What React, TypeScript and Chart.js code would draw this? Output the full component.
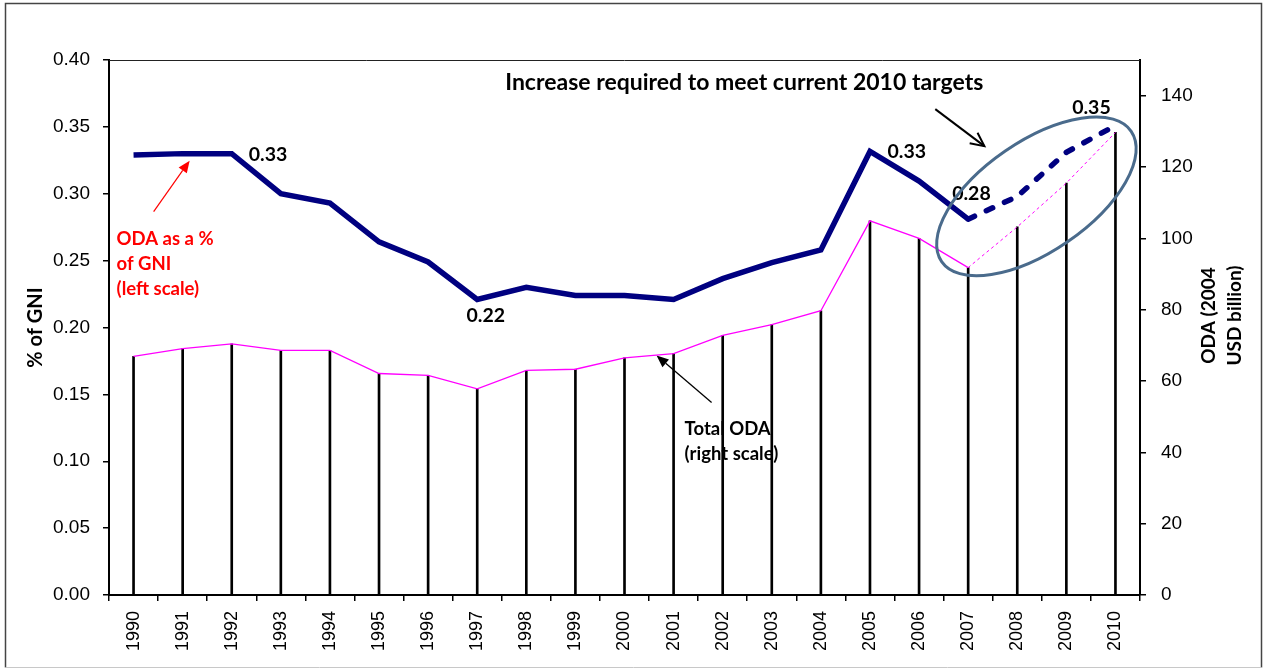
import React, { useEffect, useRef } from "react";
import { Chart, registerables } from "chart.js";

Chart.register(...registerables);

// ---------- data ----------
const years = [
  "1990", "1991", "1992", "1993", "1994", "1995", "1996", "1997", "1998", "1999", "2000",
  "2001", "2002", "2003", "2004", "2005", "2006", "2007", "2008", "2009", "2010",
];

// ODA as % of GNI (left scale) – actual
const gniPctActual: (number | null)[] = [
  0.329, 0.33, 0.33, 0.3, 0.293, 0.264, 0.249, 0.221, 0.23, 0.224, 0.224,
  0.221, 0.2365, 0.2485, 0.258, 0.3316, 0.3095, 0.281, null, null, null,
];
// ODA as % of GNI – required path to 2010 targets
const gniPctTarget: (number | null)[] = [
  null, null, null, null, null, null, null, null, null, null, null,
  null, null, null, null, null, null, 0.281, 0.298, 0.331, 0.351,
];

// Total ODA, 2004 USD billion (right scale) – actual
const odaTotalActual: (number | null)[] = [
  66.9, 69.1, 70.4, 68.6, 68.6, 62.1, 61.6, 57.8, 63.0, 63.3, 66.5,
  67.7, 72.8, 75.8, 79.7, 104.9, 100.0, 91.8, null, null, null,
];
// Total ODA – required path
const odaTotalTarget: (number | null)[] = [
  null, null, null, null, null, null, null, null, null, null, null,
  null, null, null, null, null, null, 91.8, 103.2, 115.5, 129.7,
];

// years whose % of GNI value is written on the chart
const labelledYears = ["1992", "1997", "2005", "2007", "2010"];

const leftAxisTitle = "% of GNI";
const rightAxisTitle = ["ODA (2004", "USD billion)"];
const gniNote = ["ODA as a %", "of GNI", "(left scale)"];
const odaNote = ["Total ODA", "(right scale)"];
const targetNote = "Increase required to meet current 2010 targets";

// ---------- styles ----------
const NAVY = "#000080";
const MAGENTA = "#FF00FF";
const ELLIPSE = "#4A6B8C";
const SANS = "'Liberation Sans', Arial, sans-serif";
const HUM = "Lato, 'Open Sans', sans-serif";

const stems = years.map((_, i) => (odaTotalActual[i] ?? odaTotalTarget[i]) as number);
const gniAll = years.map((_, i) => (gniPctActual[i] ?? gniPctTarget[i]) as number);

function arrow(
  ctx: CanvasRenderingContext2D,
  x1: number, y1: number, x2: number, y2: number,
  color: string, width: number, headLen: number, headW: number, open: boolean
) {
  const a = Math.atan2(y2 - y1, x2 - x1);
  ctx.save();
  ctx.strokeStyle = color;
  ctx.fillStyle = color;
  ctx.lineWidth = width;
  if (!open) {
    const bx = x2 - headLen * Math.cos(a);
    const by = y2 - headLen * Math.sin(a);
    ctx.beginPath();
    ctx.moveTo(x1, y1);
    ctx.lineTo(bx, by);
    ctx.stroke();
    ctx.beginPath();
    ctx.moveTo(x2, y2);
    ctx.lineTo(bx + headW * Math.sin(a), by - headW * Math.cos(a));
    ctx.lineTo(bx - headW * Math.sin(a), by + headW * Math.cos(a));
    ctx.closePath();
    ctx.fill();
  } else {
    ctx.beginPath();
    ctx.moveTo(x1, y1);
    ctx.lineTo(x2, y2);
    ctx.stroke();
    ctx.beginPath();
    ctx.moveTo(x2 - headLen * Math.cos(a - 0.45), y2 - headLen * Math.sin(a - 0.45));
    ctx.lineTo(x2, y2);
    ctx.lineTo(x2 - headLen * Math.cos(a + 0.45), y2 - headLen * Math.sin(a + 0.45));
    ctx.stroke();
  }
  ctx.restore();
}

const annotations = {
  id: "annotations",
  beforeDatasetsDraw(chart: any) {
    const { ctx, chartArea, scales } = chart;
    const x = scales.x, yR = scales.y2;
    // plot frame top
    ctx.save();
    ctx.strokeStyle = "#222";
    ctx.lineWidth = 1;
    ctx.beginPath();
    ctx.moveTo(chartArea.left, chartArea.top + 0.5);
    ctx.lineTo(chartArea.right, chartArea.top + 0.5);
    ctx.stroke();

    // Total ODA note (stems pass over it)
    const i01 = 11;
    const ax = x.getPixelForValue(i01);
    const ay = yR.getPixelForValue(stems[i01]);
    ctx.fillStyle = "#000";
    ctx.font = `bold 18.5px ${HUM}`;
    ctx.textBaseline = "middle";
    ctx.textAlign = "left";
    ctx.fillText(odaNote[0], ax + 11, ay + 75);
    ctx.fillText(odaNote[1], ax + 11, ay + 100);
    ctx.restore();
    arrow(ctx, ax + 38, ay + 49, ax - 17, ay + 2, "#000", 1.3, 12, 5, false);
  },
  afterDraw(chart: any) {
    const { ctx, chartArea, scales, width, height } = chart;
    const x = scales.x, yL = scales.y;
    ctx.save();

    // outer border
    ctx.strokeStyle = "#444";
    ctx.lineWidth = 1.5;
    ctx.beginPath();
    ctx.moveTo(5.5, height - 1.5);
    ctx.lineTo(5.5, 3.5);
    ctx.lineTo(width - 4.5, 3.5);
    ctx.lineTo(width - 4.5, height - 1.5);
    ctx.stroke();
    ctx.strokeStyle = "#c8c8c8";
    ctx.lineWidth = 1;
    ctx.beginPath();
    ctx.moveTo(5.5, height - 1.5);
    ctx.lineTo(width - 4.5, height - 1.5);
    ctx.stroke();

    // axis titles
    ctx.fillStyle = "#000";
    ctx.textAlign = "center";
    ctx.textBaseline = "middle";
    const cy = (chartArea.top + chartArea.bottom) / 2;
    ctx.save();
    ctx.translate(chartArea.left - 73, cy);
    ctx.rotate(-Math.PI / 2);
    ctx.font = `bold 20px ${HUM}`;
    ctx.fillText(leftAxisTitle, 0, 0);
    ctx.restore();
    ctx.save();
    ctx.translate(chartArea.right + 69, cy - 12);
    ctx.rotate(-Math.PI / 2);
    ctx.font = `bold 19px ${HUM}`;
    ctx.fillText(rightAxisTitle[0], 0, 0);
    ctx.fillText(rightAxisTitle[1], 0, 26);
    ctx.restore();

    // value labels
    const offsets: Record<string, [number, number]> = {
      "1992": [17, 1.5],
      "1997": [-10.7, 16.5],
      "2005": [17.5, 0.7],
      "2007": [-16, -25.4],
      "2010": [-43.3, -17.4],
    };
    ctx.font = `bold 19.5px ${HUM}`;
    ctx.textAlign = "left";
    labelledYears.forEach((yr) => {
      const i = years.indexOf(yr);
      const v = gniAll[i];
      const [dx, dy] = offsets[yr];
      ctx.fillText(v.toFixed(2), x.getPixelForValue(i) + dx, yL.getPixelForValue(v) + dy);
    });

    // red note
    const rx = x.getPixelForValue(1);
    const ry = yL.getPixelForValue(gniAll[1]);
    ctx.fillStyle = "#FF0000";
    ctx.font = `bold 18.5px ${HUM}`;
    const ly = yL.getPixelForValue(0.266);
    gniNote.forEach((t, k) => ctx.fillText(t, x.getPixelForValue(0) - 17, ly + k * 25));
    arrow(ctx, rx - 29, ry + 58, rx + 7, ry + 7, "#FF0000", 1.2, 12, 5, false);

    // target note
    ctx.fillStyle = "#000";
    ctx.textAlign = "center";
    ctx.font = `bold 23px ${HUM}`;
    ctx.fillText(targetNote, x.getPixelForValue(12.44), yL.getPixelForValue(0.383));
    arrow(
      ctx,
      x.getPixelForValue(16.33), yL.getPixelForValue(0.3633),
      x.getPixelForValue(17.33), yL.getPixelForValue(0.3356),
      "#000", 2, 15, 0, true
    );

    // ellipse round the required increase
    ctx.strokeStyle = ELLIPSE;
    ctx.lineWidth = 3;
    ctx.beginPath();
    ctx.ellipse(
      x.getPixelForValue(18.39), yL.getPixelForValue(0.298),
      115, 55, (-34.5 * Math.PI) / 180, 0, Math.PI * 2
    );
    ctx.stroke();
    ctx.restore();
  },
};

export default function App() {
  const ref = useRef<HTMLCanvasElement>(null);
  useEffect(() => {
    document.body.style.margin = "0";
    const canvas = ref.current!;
    const chart = new Chart(canvas, {
      type: "bar",
      data: {
        labels: years,
        datasets: [
          {
            type: "line",
            data: gniPctActual,
            yAxisID: "y",
            borderColor: NAVY,
            borderWidth: 5.5,
            pointRadius: 0,
            tension: 0,
            order: 0,
          },
          {
            type: "line",
            data: gniPctTarget,
            yAxisID: "y",
            borderColor: NAVY,
            borderWidth: 5.5,
            borderDash: [7, 13],
            borderCapStyle: "round",
            pointRadius: 0,
            tension: 0,
            order: 1,
          },
          {
            type: "line",
            data: odaTotalActual,
            yAxisID: "y2",
            borderColor: MAGENTA,
            borderWidth: 1.3,
            pointRadius: 0,
            tension: 0,
            order: 2,
          },
          {
            type: "line",
            data: odaTotalTarget,
            yAxisID: "y2",
            borderColor: MAGENTA,
            borderWidth: 1,
            borderDash: [3, 3],
            pointRadius: 0,
            tension: 0,
            order: 3,
          },
          {
            type: "bar",
            data: stems,
            yAxisID: "y2",
            backgroundColor: "#000",
            barThickness: 2,
            order: 4,
          },
        ],
      } as any,
      options: {
        responsive: false,
        animation: false,
        devicePixelRatio: 1,
        layout: { padding: { top: 60, left: 0, right: 0, bottom: 0 } },
        plugins: { legend: { display: false }, tooltip: { enabled: false }, title: { display: false } },
        scales: {
          x: {
            offset: true,
            grid: {
              offset: true,
              drawOnChartArea: false,
              drawTicks: true,
              tickLength: 6,
              color: "#000",
              lineWidth: 1.5,
            },
            border: { display: true, color: "#000", width: 2 },
            ticks: {
              minRotation: 90,
              maxRotation: 90,
              autoSkip: false,
              padding: 10,
              color: "#000",
              font: { family: SANS, size: 18 },
            },
            afterFit: (s: any) => {
              s.height = 74;
              s.paddingLeft = 0;
              s.paddingRight = 0;
            },
          },
          y: {
            position: "left",
            min: 0,
            max: 0.4,
            grid: {
              drawOnChartArea: false,
              drawTicks: true,
              tickLength: 6,
              color: "#000",
              lineWidth: 1.5,
            },
            border: { display: true, color: "#000", width: 2 },
            ticks: {
              stepSize: 0.05,
              padding: 13,
              color: "#000",
              font: { family: SANS, size: 19 },
              callback: (v: any) => Number(v).toFixed(2),
            },
            afterFit: (s: any) => {
              s.width = 109;
              s.paddingTop = 0;
              s.paddingBottom = 0;
            },
          },
          y2: {
            position: "right",
            min: 0,
            max: 150,
            grid: {
              drawOnChartArea: false,
              drawTicks: true,
              tickLength: 6,
              color: "#000",
              lineWidth: 1.5,
            },
            border: { display: true, color: "#000", width: 2 },
            ticks: {
              stepSize: 20,
              includeBounds: false,
              padding: 15,
              color: "#000",
              font: { family: SANS, size: 19 },
            },
            afterFit: (s: any) => {
              s.width = 126;
              s.paddingTop = 0;
              s.paddingBottom = 0;
            },
          },
        },
      } as any,
      plugins: [annotations],
    });
    return () => chart.destroy();
  }, []);
  return (
    <canvas
      ref={ref}
      width={1266}
      height={669}
      style={{ display: "block", width: 1266, height: 669 }}
    />
  );
}
